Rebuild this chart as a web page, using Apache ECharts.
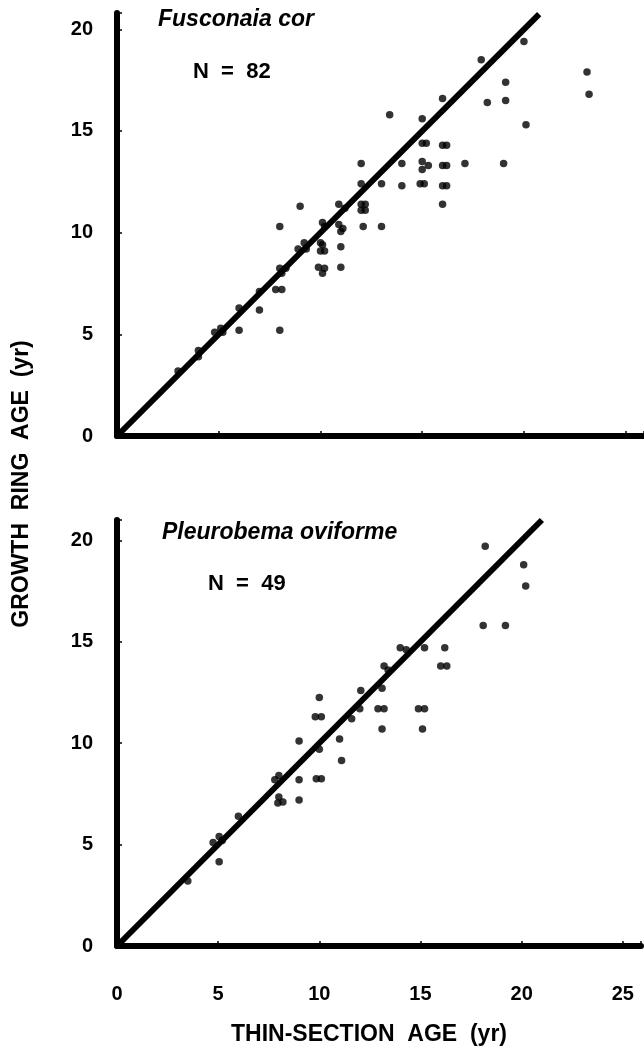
<!DOCTYPE html>
<html><head><meta charset="utf-8">
<script src="https://cdn.jsdelivr.net/npm/echarts@6/dist/echarts.min.js"></script>
<style>html,body{margin:0;padding:0;background:#fff}#c{width:644px;height:1051px}</style>
</head><body><div id="c"></div>
<script>
// ---- data ----
const xTickStep = 5;
const yTickStep = 5;
const fusconaiaPts = [
  [3,3.2],[4,4.2],[4,3.9],[4.8,5.1],[5.1,5.3],[5.2,5.1],[6,6.3],[6,5.2],[7,7.1],[7,6.2],
  [7.8,7.2],[8.1,7.2],[8,8.25],[8.3,8.25],[8.1,8.0],[8,10.3],[8,5.2],[9,11.3],[8.9,9.2],[9.2,9.5],
  [9.3,9.2],[10,9.5],[10,9.1],[10.2,9.1],[10.1,9.4],[11,9.3],[9.9,8.3],[10.1,8.0],[10.2,8.25],[11,8.3],
  [10.1,10.5],[10.2,10.3],[10.9,10.4],[11.1,10.2],[11,10.05],[12.1,10.3],[13,10.3],[10.9,11.4],[11.2,11.2],[12,11.4],
  [12.2,11.4],[12,11.1],[12.2,11.1],[12,12.4],[13,12.4],[14,12.3],[14.9,12.4],[15.1,12.4],[16,12.3],[16.2,12.3],
  [12,13.4],[14,13.4],[15,13.5],[15,13.1],[15.3,13.3],[16,13.3],[16.2,13.3],[17.1,13.4],[19,13.4],[15,14.4],
  [15.2,14.4],[16,14.3],[16.2,14.3],[13.4,15.8],[15,15.6],[16,16.6],[16,11.4],[17.9,18.5],[18.2,16.4],[19.1,16.5],
  [19.1,17.4],[20,19.4],[20.1,15.3],[23.1,17.9],[23.2,16.8]
];
const pleurobemaPts = [
  [3.5,3.2],[5.05,4.15],[4.75,5.1],[5.05,5.4],[5.2,5.2],[6,6.4],[7.8,8.2],[8,8.4],[8,7.35],[8.2,7.1],
  [7.95,7.05],[9,7.2],[9,8.2],[9,10.1],[9.85,8.25],[10.1,8.25],[9.8,11.3],[10.1,11.3],[10,12.25],[10,9.7],
  [11.1,9.15],[11,10.2],[11.6,11.2],[12,11.7],[12.05,12.6],[12.9,11.7],[13.2,11.7],[13.1,12.7],[13.1,10.7],[13.2,13.8],
  [13.4,13.6],[14,14.7],[14.3,14.6],[15.2,14.7],[16.2,14.7],[16,13.8],[16.3,13.8],[14.9,11.7],[15.2,11.7],[15.1,10.7],
  [18.2,19.7],[18.1,15.8],[19.2,15.8],[20.1,18.8],[20.2,17.75]
];
const fusconaiaFit = [[0,0],[20.75,20.75]];
const pleurobemaFit = [[0,0],[21,21]];
const panelTitles = ['Fusconaia cor', 'Pleurobema oviforme'];
const panelN = ['N  =  82', 'N  =  49'];
const xTitle = 'THIN-SECTION  AGE  (yr)';
const yTitle = 'GROWTH  RING  AGE  (yr)';

// ---- chart ----
const FONT = "'Liberation Sans', Arial, sans-serif";
const chart = echarts.init(document.getElementById('c'), null, {renderer: 'canvas'});

function stepLabel(step) {
  return function (v) { return Math.abs(v / step - Math.round(v / step)) < 1e-6 ? String(v) : ''; };
}
function xAx(i, showLabel) {
  return {
    gridIndex: i, type: 'value', min: 0, max: 25.9, interval: xTickStep,
    axisLine: {show: true, onZero: false, lineStyle: {color: '#000', width: 6}},
    axisTick: {show: true, inside: true, length: 5, lineStyle: {color: '#000', width: 1.5}},
    axisLabel: {show: showLabel, margin: 38, color: '#000', fontFamily: FONT, fontWeight: 'bold', fontSize: 20,
      formatter: stepLabel(xTickStep)},
    splitLine: {show: false}
  };
}
function yAx(i, max) {
  return {
    gridIndex: i, type: 'value', min: 0, max: max, interval: yTickStep,
    axisLine: {show: true, onZero: false, lineStyle: {color: '#000', width: 6}},
    axisTick: {show: true, inside: true, length: 5, lineStyle: {color: '#000', width: 1.5}},
    axisLabel: {show: true, margin: 24, color: '#000', fontFamily: FONT, fontWeight: 'bold', fontSize: 20,
      formatter: stepLabel(yTickStep)},
    splitLine: {show: false}
  };
}
function scatter(i, pts) {
  return {type: 'scatter', xAxisIndex: i, yAxisIndex: i, data: pts, symbol: 'circle', symbolSize: 7.5,
    itemStyle: {color: '#000'}, silent: true, z: 3};
}
function fit(i, pts) {
  return {type: 'line', xAxisIndex: i, yAxisIndex: i, data: pts, symbol: 'none',
    lineStyle: {color: '#000', width: 6}, silent: true, z: 2};
}
function txt(x, y, s, size, style, align, rot) {
  return {type: 'text', x: x, y: y, rotation: rot || 0, silent: true,
    style: {text: s, fill: '#000', font: (style || 'normal') + ' bold ' + size + 'px ' + FONT,
      textAlign: align || 'left', textVerticalAlign: 'middle'}};
}

chart.setOption({
  animation: false,
  backgroundColor: '#fff',
  grid: [
    {left: 117, right: 0, top: 13, height: 423},
    {left: 117, right: 0, top: 520, height: 426}
  ],
  xAxis: [xAx(0, false), xAx(1, true)],
  yAxis: [yAx(0, 20.8), yAx(1, 21)],
  series: [fit(0, fusconaiaFit), scatter(0, fusconaiaPts), fit(1, pleurobemaFit), scatter(1, pleurobemaPts)],
  graphic: [
    txt(158, 20, panelTitles[0], 23, 'italic'),
    txt(193, 72, panelN[0], 22),
    txt(162, 533, panelTitles[1], 23, 'italic'),
    txt(208, 584, panelN[1], 22),
    txt(369, 1035, xTitle, 23, 'normal', 'center'),
    txt(22, 484, yTitle, 23, 'normal', 'center', Math.PI / 2)
  ]
});
</script></body></html>
